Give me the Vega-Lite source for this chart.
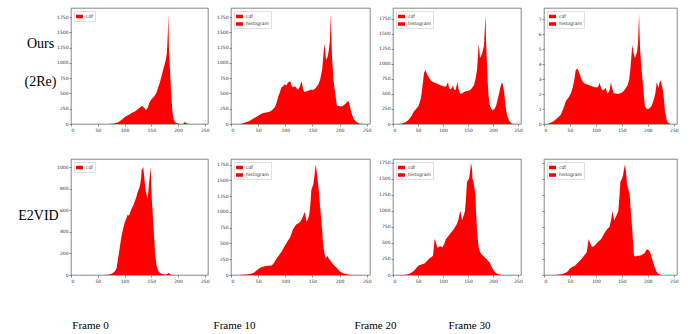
{
"$schema": "https://vega.github.io/schema/vega-lite/v6.json",
"padding": {"left": 17, "top": 7, "right": 0, "bottom": 0},
"background": "white",
"bounds": "flush",
"columns": 4,
"spacing": {"row": 35, "column": 23},
"resolve": {"scale": {"color": "independent"}, "legend": {"color": "independent"}},
"datasets": {"h": [
{"p":"a","v":0,"c":0},{"p":"a","v":60,"c":0},{"p":"a","v":70,"c":2},{"p":"a","v":80,"c":10},{"p":"a","v":88,"c":30},{"p":"a","v":95,"c":70},{"p":"a","v":100,"c":110},{"p":"a","v":105,"c":140},{"p":"a","v":110,"c":160},{"p":"a","v":115,"c":190},{"p":"a","v":120,"c":210},{"p":"a","v":125,"c":240},{"p":"a","v":130,"c":280},{"p":"a","v":133,"c":300},{"p":"a","v":136,"c":270},{"p":"a","v":140,"c":230},{"p":"a","v":143,"c":260},{"p":"a","v":146,"c":340},{"p":"a","v":150,"c":400},{"p":"a","v":153,"c":430},{"p":"a","v":156,"c":460},{"p":"a","v":160,"c":520},{"p":"a","v":163,"c":600},{"p":"a","v":166,"c":680},{"p":"a","v":169,"c":780},{"p":"a","v":172,"c":880},{"p":"a","v":175,"c":980},{"p":"a","v":177,"c":1050},{"p":"a","v":179,"c":1150},{"p":"a","v":180,"c":1300},{"p":"a","v":181,"c":1500},{"p":"a","v":182,"c":1800},{"p":"a","v":183,"c":1250},{"p":"a","v":184,"c":1050},{"p":"a","v":186,"c":700},{"p":"a","v":188,"c":380},{"p":"a","v":190,"c":160},{"p":"a","v":192,"c":70},{"p":"a","v":195,"c":25},{"p":"a","v":200,"c":10},{"p":"a","v":205,"c":2},{"p":"a","v":210,"c":5},{"p":"a","v":213,"c":35},{"p":"a","v":216,"c":10},{"p":"a","v":220,"c":0},{"p":"a","v":255,"c":0},
{"p":"b","v":0,"c":0},{"p":"b","v":15,"c":0},{"p":"b","v":19,"c":5},{"p":"b","v":25,"c":20},{"p":"b","v":34,"c":50},{"p":"b","v":40,"c":80},{"p":"b","v":47,"c":120},{"p":"b","v":53,"c":150},{"p":"b","v":59,"c":180},{"p":"b","v":65,"c":190},{"p":"b","v":71,"c":200},{"p":"b","v":76,"c":230},{"p":"b","v":81,"c":280},{"p":"b","v":84,"c":350},{"p":"b","v":87,"c":450},{"p":"b","v":90,"c":520},{"p":"b","v":93,"c":600},{"p":"b","v":96,"c":620},{"p":"b","v":99,"c":650},{"p":"b","v":102,"c":630},{"p":"b","v":105,"c":680},{"p":"b","v":109,"c":700},{"p":"b","v":112,"c":620},{"p":"b","v":115,"c":600},{"p":"b","v":118,"c":620},{"p":"b","v":121,"c":580},{"p":"b","v":124,"c":560},{"p":"b","v":127,"c":620},{"p":"b","v":130,"c":700},{"p":"b","v":133,"c":560},{"p":"b","v":136,"c":520},{"p":"b","v":140,"c":540},{"p":"b","v":143,"c":550},{"p":"b","v":147,"c":560},{"p":"b","v":152,"c":560},{"p":"b","v":156,"c":590},{"p":"b","v":161,"c":650},{"p":"b","v":164,"c":720},{"p":"b","v":168,"c":900},{"p":"b","v":170,"c":1100},{"p":"b","v":172,"c":1320},{"p":"b","v":174,"c":1150},{"p":"b","v":175,"c":1050},{"p":"b","v":178,"c":1100},{"p":"b","v":180,"c":1200},{"p":"b","v":182,"c":1350},{"p":"b","v":184,"c":1800},{"p":"b","v":185,"c":1400},{"p":"b","v":186,"c":1100},{"p":"b","v":189,"c":700},{"p":"b","v":192,"c":500},{"p":"b","v":195,"c":300},{"p":"b","v":200,"c":290},{"p":"b","v":205,"c":290},{"p":"b","v":208,"c":310},{"p":"b","v":211,"c":330},{"p":"b","v":214,"c":360},{"p":"b","v":216,"c":380},{"p":"b","v":218,"c":330},{"p":"b","v":220,"c":250},{"p":"b","v":223,"c":150},{"p":"b","v":226,"c":80},{"p":"b","v":230,"c":40},{"p":"b","v":236,"c":10},{"p":"b","v":245,"c":0},{"p":"b","v":255,"c":0},
{"p":"c","v":0,"c":0},{"p":"c","v":12,"c":0},{"p":"c","v":18,"c":10},{"p":"c","v":25,"c":30},{"p":"c","v":30,"c":60},{"p":"c","v":34,"c":100},{"p":"c","v":38,"c":150},{"p":"c","v":41,"c":200},{"p":"c","v":46,"c":250},{"p":"c","v":51,"c":300},{"p":"c","v":55,"c":400},{"p":"c","v":57,"c":500},{"p":"c","v":60,"c":700},{"p":"c","v":62,"c":850},{"p":"c","v":65,"c":900},{"p":"c","v":67,"c":850},{"p":"c","v":70,"c":800},{"p":"c","v":73,"c":760},{"p":"c","v":76,"c":720},{"p":"c","v":80,"c":700},{"p":"c","v":86,"c":680},{"p":"c","v":91,"c":660},{"p":"c","v":96,"c":640},{"p":"c","v":101,"c":630},{"p":"c","v":105,"c":620},{"p":"c","v":107,"c":640},{"p":"c","v":110,"c":700},{"p":"c","v":112,"c":600},{"p":"c","v":115,"c":580},{"p":"c","v":118,"c":600},{"p":"c","v":120,"c":650},{"p":"c","v":122,"c":580},{"p":"c","v":125,"c":560},{"p":"c","v":129,"c":700},{"p":"c","v":131,"c":580},{"p":"c","v":135,"c":500},{"p":"c","v":140,"c":520},{"p":"c","v":144,"c":540},{"p":"c","v":149,"c":550},{"p":"c","v":154,"c":560},{"p":"c","v":158,"c":600},{"p":"c","v":162,"c":650},{"p":"c","v":165,"c":750},{"p":"c","v":168,"c":900},{"p":"c","v":170,"c":1150},{"p":"c","v":171,"c":1330},{"p":"c","v":173,"c":1200},{"p":"c","v":174,"c":1100},{"p":"c","v":177,"c":1150},{"p":"c","v":179,"c":1200},{"p":"c","v":182,"c":1300},{"p":"c","v":185,"c":1820},{"p":"c","v":186,"c":1400},{"p":"c","v":188,"c":1000},{"p":"c","v":190,"c":600},{"p":"c","v":192,"c":400},{"p":"c","v":194,"c":300},{"p":"c","v":197,"c":250},{"p":"c","v":199,"c":230},{"p":"c","v":203,"c":250},{"p":"c","v":206,"c":300},{"p":"c","v":209,"c":400},{"p":"c","v":212,"c":500},{"p":"c","v":215,"c":620},{"p":"c","v":218,"c":700},{"p":"c","v":220,"c":640},{"p":"c","v":222,"c":550},{"p":"c","v":225,"c":300},{"p":"c","v":228,"c":150},{"p":"c","v":232,"c":60},{"p":"c","v":238,"c":5},{"p":"c","v":248,"c":0},{"p":"c","v":255,"c":0},
{"p":"d","v":0,"c":0},{"p":"d","v":6,"c":0},{"p":"d","v":12,"c":15},{"p":"d","v":19,"c":50},{"p":"d","v":25,"c":90},{"p":"d","v":32,"c":150},{"p":"d","v":37,"c":250},{"p":"d","v":42,"c":380},{"p":"d","v":45,"c":420},{"p":"d","v":48,"c":450},{"p":"d","v":52,"c":520},{"p":"d","v":55,"c":600},{"p":"d","v":58,"c":720},{"p":"d","v":61,"c":900},{"p":"d","v":64,"c":930},{"p":"d","v":67,"c":880},{"p":"d","v":71,"c":770},{"p":"d","v":74,"c":720},{"p":"d","v":77,"c":680},{"p":"d","v":83,"c":660},{"p":"d","v":90,"c":640},{"p":"d","v":96,"c":620},{"p":"d","v":103,"c":610},{"p":"d","v":105,"c":640},{"p":"d","v":107,"c":690},{"p":"d","v":110,"c":600},{"p":"d","v":113,"c":560},{"p":"d","v":116,"c":580},{"p":"d","v":119,"c":600},{"p":"d","v":122,"c":500},{"p":"d","v":126,"c":560},{"p":"d","v":129,"c":700},{"p":"d","v":131,"c":600},{"p":"d","v":134,"c":520},{"p":"d","v":138,"c":510},{"p":"d","v":142,"c":500},{"p":"d","v":146,"c":510},{"p":"d","v":151,"c":530},{"p":"d","v":156,"c":580},{"p":"d","v":161,"c":650},{"p":"d","v":164,"c":750},{"p":"d","v":166,"c":900},{"p":"d","v":168,"c":1100},{"p":"d","v":170,"c":1330},{"p":"d","v":172,"c":1200},{"p":"d","v":175,"c":1100},{"p":"d","v":177,"c":1150},{"p":"d","v":179,"c":1200},{"p":"d","v":181,"c":1350},{"p":"d","v":183,"c":1840},{"p":"d","v":184,"c":1500},{"p":"d","v":185,"c":1250},{"p":"d","v":187,"c":1000},{"p":"d","v":189,"c":800},{"p":"d","v":191,"c":600},{"p":"d","v":194,"c":300},{"p":"d","v":197,"c":260},{"p":"d","v":201,"c":250},{"p":"d","v":204,"c":270},{"p":"d","v":207,"c":300},{"p":"d","v":211,"c":400},{"p":"d","v":214,"c":500},{"p":"d","v":216,"c":620},{"p":"d","v":217,"c":700},{"p":"d","v":219,"c":650},{"p":"d","v":221,"c":600},{"p":"d","v":222,"c":680},{"p":"d","v":224,"c":730},{"p":"d","v":226,"c":680},{"p":"d","v":229,"c":550},{"p":"d","v":231,"c":400},{"p":"d","v":233,"c":200},{"p":"d","v":236,"c":80},{"p":"d","v":238,"c":30},{"p":"d","v":242,"c":5},{"p":"d","v":245,"c":0},{"p":"d","v":255,"c":0},
{"p":"e","v":0,"c":0},{"p":"e","v":60,"c":0},{"p":"e","v":69,"c":2},{"p":"e","v":75,"c":10},{"p":"e","v":79,"c":20},{"p":"e","v":82,"c":35},{"p":"e","v":85,"c":60},{"p":"e","v":88,"c":150},{"p":"e","v":91,"c":250},{"p":"e","v":94,"c":350},{"p":"e","v":97,"c":420},{"p":"e","v":100,"c":480},{"p":"e","v":103,"c":520},{"p":"e","v":106,"c":560},{"p":"e","v":108,"c":550},{"p":"e","v":110,"c":570},{"p":"e","v":112,"c":600},{"p":"e","v":114,"c":620},{"p":"e","v":117,"c":650},{"p":"e","v":119,"c":680},{"p":"e","v":122,"c":720},{"p":"e","v":124,"c":760},{"p":"e","v":127,"c":800},{"p":"e","v":129,"c":830},{"p":"e","v":131,"c":900},{"p":"e","v":132,"c":970},{"p":"e","v":134,"c":990},{"p":"e","v":135,"c":1000},{"p":"e","v":136,"c":950},{"p":"e","v":137,"c":900},{"p":"e","v":139,"c":800},{"p":"e","v":141,"c":750},{"p":"e","v":143,"c":700},{"p":"e","v":145,"c":800},{"p":"e","v":146,"c":860},{"p":"e","v":148,"c":950},{"p":"e","v":149,"c":1000},{"p":"e","v":150,"c":850},{"p":"e","v":151,"c":700},{"p":"e","v":153,"c":550},{"p":"e","v":154,"c":450},{"p":"e","v":156,"c":300},{"p":"e","v":157,"c":200},{"p":"e","v":160,"c":80},{"p":"e","v":163,"c":40},{"p":"e","v":166,"c":20},{"p":"e","v":170,"c":10},{"p":"e","v":176,"c":5},{"p":"e","v":180,"c":10},{"p":"e","v":183,"c":20},{"p":"e","v":185,"c":10},{"p":"e","v":188,"c":0},{"p":"e","v":255,"c":0},
{"p":"f","v":0,"c":0},{"p":"f","v":15,"c":0},{"p":"f","v":19,"c":2},{"p":"f","v":28,"c":8},{"p":"f","v":37,"c":20},{"p":"f","v":43,"c":40},{"p":"f","v":47,"c":70},{"p":"f","v":50,"c":90},{"p":"f","v":53,"c":110},{"p":"f","v":57,"c":125},{"p":"f","v":62,"c":140},{"p":"f","v":68,"c":145},{"p":"f","v":75,"c":150},{"p":"f","v":79,"c":190},{"p":"f","v":84,"c":260},{"p":"f","v":89,"c":320},{"p":"f","v":94,"c":380},{"p":"f","v":98,"c":450},{"p":"f","v":103,"c":520},{"p":"f","v":106,"c":560},{"p":"f","v":109,"c":600},{"p":"f","v":111,"c":650},{"p":"f","v":114,"c":720},{"p":"f","v":117,"c":760},{"p":"f","v":120,"c":800},{"p":"f","v":124,"c":820},{"p":"f","v":128,"c":850},{"p":"f","v":131,"c":900},{"p":"f","v":134,"c":960},{"p":"f","v":136,"c":1000},{"p":"f","v":137,"c":950},{"p":"f","v":139,"c":850},{"p":"f","v":141,"c":870},{"p":"f","v":144,"c":950},{"p":"f","v":146,"c":1100},{"p":"f","v":148,"c":1350},{"p":"f","v":150,"c":1400},{"p":"f","v":152,"c":1450},{"p":"f","v":154,"c":1600},{"p":"f","v":156,"c":1750},{"p":"f","v":157,"c":1700},{"p":"f","v":159,"c":1550},{"p":"f","v":161,"c":1400},{"p":"f","v":162,"c":1300},{"p":"f","v":164,"c":1100},{"p":"f","v":166,"c":900},{"p":"f","v":168,"c":700},{"p":"f","v":169,"c":550},{"p":"f","v":171,"c":400},{"p":"f","v":174,"c":270},{"p":"f","v":176,"c":280},{"p":"f","v":178,"c":300},{"p":"f","v":180,"c":260},{"p":"f","v":183,"c":230},{"p":"f","v":187,"c":180},{"p":"f","v":190,"c":150},{"p":"f","v":194,"c":120},{"p":"f","v":197,"c":90},{"p":"f","v":200,"c":60},{"p":"f","v":205,"c":35},{"p":"f","v":209,"c":20},{"p":"f","v":214,"c":10},{"p":"f","v":219,"c":5},{"p":"f","v":225,"c":0},{"p":"f","v":255,"c":0},
{"p":"g","v":0,"c":0},{"p":"g","v":20,"c":0},{"p":"g","v":25,"c":2},{"p":"g","v":33,"c":20},{"p":"g","v":41,"c":60},{"p":"g","v":46,"c":100},{"p":"g","v":51,"c":150},{"p":"g","v":57,"c":165},{"p":"g","v":63,"c":180},{"p":"g","v":68,"c":220},{"p":"g","v":73,"c":260},{"p":"g","v":77,"c":280},{"p":"g","v":80,"c":300},{"p":"g","v":82,"c":450},{"p":"g","v":83,"c":560},{"p":"g","v":85,"c":530},{"p":"g","v":86,"c":500},{"p":"g","v":88,"c":450},{"p":"g","v":89,"c":420},{"p":"g","v":92,"c":440},{"p":"g","v":96,"c":450},{"p":"g","v":99,"c":430},{"p":"g","v":102,"c":480},{"p":"g","v":106,"c":560},{"p":"g","v":110,"c":600},{"p":"g","v":115,"c":650},{"p":"g","v":118,"c":680},{"p":"g","v":122,"c":720},{"p":"g","v":125,"c":760},{"p":"g","v":128,"c":800},{"p":"g","v":131,"c":870},{"p":"g","v":133,"c":950},{"p":"g","v":135,"c":1000},{"p":"g","v":137,"c":900},{"p":"g","v":138,"c":850},{"p":"g","v":141,"c":920},{"p":"g","v":144,"c":1000},{"p":"g","v":146,"c":1200},{"p":"g","v":148,"c":1450},{"p":"g","v":150,"c":1480},{"p":"g","v":152,"c":1500},{"p":"g","v":154,"c":1600},{"p":"g","v":156,"c":1750},{"p":"g","v":158,"c":1650},{"p":"g","v":159,"c":1500},{"p":"g","v":161,"c":1450},{"p":"g","v":163,"c":1350},{"p":"g","v":165,"c":1250},{"p":"g","v":166,"c":1000},{"p":"g","v":168,"c":700},{"p":"g","v":170,"c":520},{"p":"g","v":172,"c":400},{"p":"g","v":176,"c":330},{"p":"g","v":180,"c":300},{"p":"g","v":184,"c":270},{"p":"g","v":187,"c":250},{"p":"g","v":190,"c":220},{"p":"g","v":193,"c":200},{"p":"g","v":196,"c":150},{"p":"g","v":199,"c":100},{"p":"g","v":203,"c":55},{"p":"g","v":206,"c":30},{"p":"g","v":211,"c":12},{"p":"g","v":216,"c":5},{"p":"g","v":222,"c":0},{"p":"g","v":255,"c":0},
{"p":"h","v":0,"c":0},{"p":"h","v":20,"c":0},{"p":"h","v":25,"c":2},{"p":"h","v":33,"c":12},{"p":"h","v":41,"c":30},{"p":"h","v":46,"c":60},{"p":"h","v":50,"c":100},{"p":"h","v":55,"c":130},{"p":"h","v":60,"c":150},{"p":"h","v":66,"c":200},{"p":"h","v":72,"c":250},{"p":"h","v":77,"c":300},{"p":"h","v":82,"c":350},{"p":"h","v":84,"c":450},{"p":"h","v":86,"c":560},{"p":"h","v":88,"c":520},{"p":"h","v":91,"c":450},{"p":"h","v":94,"c":440},{"p":"h","v":98,"c":460},{"p":"h","v":101,"c":490},{"p":"h","v":104,"c":520},{"p":"h","v":107,"c":540},{"p":"h","v":110,"c":560},{"p":"h","v":113,"c":600},{"p":"h","v":116,"c":650},{"p":"h","v":120,"c":700},{"p":"h","v":123,"c":730},{"p":"h","v":126,"c":750},{"p":"h","v":129,"c":850},{"p":"h","v":132,"c":1000},{"p":"h","v":134,"c":900},{"p":"h","v":135,"c":850},{"p":"h","v":139,"c":920},{"p":"h","v":143,"c":1000},{"p":"h","v":145,"c":1200},{"p":"h","v":147,"c":1450},{"p":"h","v":150,"c":1500},{"p":"h","v":152,"c":1550},{"p":"h","v":154,"c":1650},{"p":"h","v":156,"c":1730},{"p":"h","v":158,"c":1600},{"p":"h","v":160,"c":1400},{"p":"h","v":162,"c":1350},{"p":"h","v":165,"c":1250},{"p":"h","v":167,"c":1000},{"p":"h","v":170,"c":700},{"p":"h","v":172,"c":450},{"p":"h","v":173,"c":300},{"p":"h","v":176,"c":290},{"p":"h","v":180,"c":300},{"p":"h","v":183,"c":300},{"p":"h","v":187,"c":310},{"p":"h","v":192,"c":330},{"p":"h","v":195,"c":360},{"p":"h","v":198,"c":400},{"p":"h","v":201,"c":390},{"p":"h","v":203,"c":370},{"p":"h","v":206,"c":320},{"p":"h","v":208,"c":250},{"p":"h","v":211,"c":170},{"p":"h","v":214,"c":100},{"p":"h","v":217,"c":50},{"p":"h","v":220,"c":20},{"p":"h","v":224,"c":5},{"p":"h","v":227,"c":0},{"p":"h","v":255,"c":0}
]},
"concat": [
{"width": 137, "height": 116, "data": {"name": "h"}, "transform": [{"filter": "datum.p=='a'"}], "mark": {"type": "area"},
 "encoding": {
  "x": {"field": "v", "type": "quantitative", "scale": {"domain": [0, 256], "nice": false}, "axis": {"values": [0,50,100,150,200,250], "title": null}},
  "y": {"field": "c", "type": "quantitative", "scale": {"domain": [0, 1900], "nice": false}, "axis": {"values": [0,250,500,750,1000,1250,1500,1750], "title": ["Ours", "(2Re)"], "titleAngle": 0, "titleX": -31, "titleY": 35, "titleAlign": "center", "titleBaseline": "middle", "titleFontSize": 14, "titleLineHeight": 38}},
  "color": {"datum": "cdf", "type": "nominal", "scale": {"domain": ["cdf"], "range": ["#ff0000"]}, "legend": {"title": null}}}},
{"width": 139, "height": 116, "data": {"name": "h"}, "transform": [{"filter": "datum.p=='b'"}], "mark": {"type": "area"},
 "encoding": {
  "x": {"field": "v", "type": "quantitative", "scale": {"domain": [0, 256], "nice": false}, "axis": {"values": [0,50,100,150,200,250], "title": null}},
  "y": {"field": "c", "type": "quantitative", "scale": {"domain": [0, 1900], "nice": false}, "axis": {"values": [0,250,500,750,1000,1250,1500,1750], "title": null}},
  "color": {"datum": "histogram", "type": "nominal", "scale": {"domain": ["cdf", "histogram"], "range": ["#ff0000", "#ff0000"]}, "legend": {"title": null}}}},
{"width": 128, "height": 116, "data": {"name": "h"}, "transform": [{"filter": "datum.p=='c'"}], "mark": {"type": "area"},
 "encoding": {
  "x": {"field": "v", "type": "quantitative", "scale": {"domain": [0, 256], "nice": false}, "axis": {"values": [0,50,100,150,200,250], "title": null}},
  "y": {"field": "c", "type": "quantitative", "scale": {"domain": [0, 1930], "nice": false}, "axis": {"values": [0,250,500,750,1000,1250,1500,1750], "title": null}},
  "color": {"datum": "histogram", "type": "nominal", "scale": {"domain": ["cdf", "histogram"], "range": ["#ff0000", "#ff0000"]}, "legend": {"title": null}}}},
{"width": 133, "height": 116, "data": {"name": "h"}, "transform": [{"filter": "datum.p=='d'"}], "mark": {"type": "area"},
 "encoding": {
  "x": {"field": "v", "type": "quantitative", "scale": {"domain": [0, 256], "nice": false}, "axis": {"values": [0,50,100,150,200,250], "title": null}},
  "y": {"field": "c", "type": "quantitative", "scale": {"domain": [0, 1940], "nice": false}, "axis": {"values": [0,250,500,750,1000,1250,1500,1750], "labelExpr": "datum.value/250", "title": null}},
  "color": {"datum": "histogram", "type": "nominal", "scale": {"domain": ["cdf", "histogram"], "range": ["#ff0000", "#ff0000"]}, "legend": {"title": null}}}},
{"width": 137, "height": 116, "data": {"name": "h"}, "transform": [{"filter": "datum.p=='e'"}], "mark": {"type": "area"},
 "encoding": {
  "x": {"field": "v", "type": "quantitative", "scale": {"domain": [0, 256], "nice": false}, "axis": {"values": [0,50,100,150,200,250], "title": "Frame 0", "titleX": 19, "titleY": 50, "titleAlign": "center", "titleBaseline": "middle", "titleFontSize": 11}},
  "y": {"field": "c", "type": "quantitative", "scale": {"domain": [0, 1075], "nice": false}, "axis": {"values": [0,200,400,600,800,1000], "title": "E2VID", "titleAngle": 0, "titleX": -33, "titleY": 56, "titleAlign": "center", "titleBaseline": "middle", "titleFontSize": 14}},
  "color": {"datum": "cdf", "type": "nominal", "scale": {"domain": ["cdf"], "range": ["#ff0000"]}, "legend": {"title": null}}}},
{"width": 139, "height": 116, "data": {"name": "h"}, "transform": [{"filter": "datum.p=='f'"}], "mark": {"type": "area"},
 "encoding": {
  "x": {"field": "v", "type": "quantitative", "scale": {"domain": [0, 256], "nice": false}, "axis": {"values": [0,50,100,150,200,250], "title": "Frame 10", "titleX": 3, "titleY": 50, "titleAlign": "center", "titleBaseline": "middle", "titleFontSize": 11}},
  "y": {"field": "c", "type": "quantitative", "scale": {"domain": [0, 1840], "nice": false}, "axis": {"values": [0,250,500,750,1000,1250,1500,1750], "title": null}},
  "color": {"datum": "histogram", "type": "nominal", "scale": {"domain": ["cdf", "histogram"], "range": ["#ff0000", "#ff0000"]}, "legend": {"title": null}}}},
{"width": 128, "height": 116, "data": {"name": "h"}, "transform": [{"filter": "datum.p=='g'"}], "mark": {"type": "area"},
 "encoding": {
  "x": {"field": "v", "type": "quantitative", "scale": {"domain": [0, 256], "nice": false}, "axis": {"values": [0,50,100,150,200,250], "title": "Frame 20", "titleX": -18, "titleY": 50, "titleAlign": "center", "titleBaseline": "middle", "titleFontSize": 11}},
  "y": {"field": "c", "type": "quantitative", "scale": {"domain": [0, 1810], "nice": false}, "axis": {"values": [0,250,500,750,1000,1250,1500,1750], "title": null}},
  "color": {"datum": "histogram", "type": "nominal", "scale": {"domain": ["cdf", "histogram"], "range": ["#ff0000", "#ff0000"]}, "legend": {"title": null}}}},
{"width": 133, "height": 116, "data": {"name": "h"}, "transform": [{"filter": "datum.p=='h'"}], "mark": {"type": "area"},
 "encoding": {
  "x": {"field": "v", "type": "quantitative", "scale": {"domain": [0, 256], "nice": false}, "axis": {"values": [0,50,100,150,200,250], "title": "Frame 30", "titleX": -75, "titleY": 50, "titleAlign": "center", "titleBaseline": "middle", "titleFontSize": 11}},
  "y": {"field": "c", "type": "quantitative", "scale": {"domain": [0, 1810], "nice": false}, "axis": {"values": [0,250,500,750,1000,1250,1500,1750], "labels": false, "title": null}},
  "color": {"datum": "histogram", "type": "nominal", "scale": {"domain": ["cdf", "histogram"], "range": ["#ff0000", "#ff0000"]}, "legend": {"title": null}}}}
],
"config": {
 "numberFormat": "d",
 "view": {"stroke": "#555", "strokeWidth": 0.7},
 "area": {"opacity": 1},
 "axis": {"grid": false, "domain": false, "labelFontSize": 4.5, "labelFont": "DejaVu Sans", "labelColor": "#333", "tickSize": 2, "tickColor": "#444", "tickWidth": 0.6, "labelPadding": 1, "titleFont": "Liberation Serif", "titleFontWeight": "normal", "titleColor": "#000"},
 "legend": {"orient": "top-left", "offset": 3, "padding": 2, "symbolType": "M-1,-0.5L1,-0.5L1,0.5L-1,0.5Z", "symbolSize": 49, "symbolStrokeWidth": 0, "symbolOpacity": 1, "labelFontSize": 4.5, "labelFont": "DejaVu Sans", "labelColor": "#333", "rowPadding": 1.5, "labelOffset": 3, "strokeColor": "#e0e0e0", "fillColor": "white"}
}
}
